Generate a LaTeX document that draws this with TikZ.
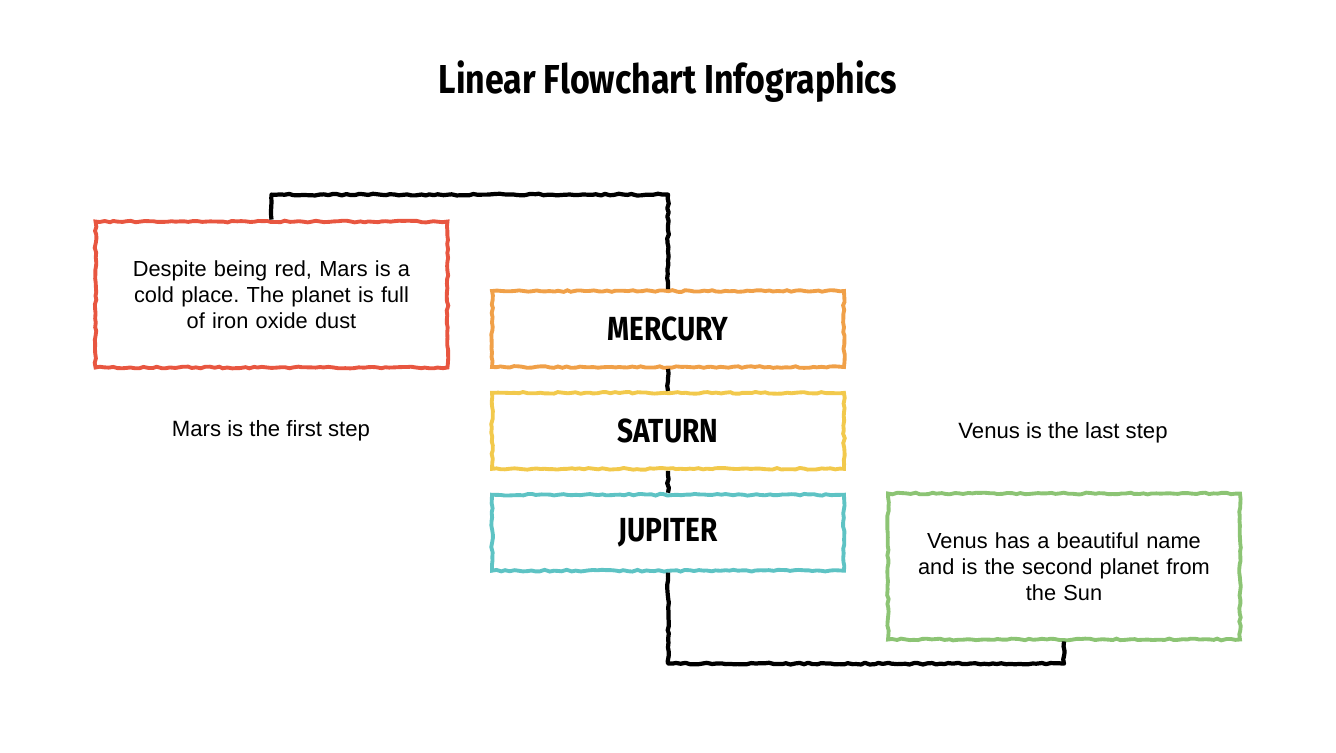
\documentclass[tikz,border=0pt]{standalone}
\usepackage{fontspec}
\setmainfont{Liberation Sans}
\newfontfamily\headfont[FakeStretch=0.84]{Fira Sans}
\usetikzlibrary{positioning,decorations.pathmorphing}
\frenchspacing

\definecolor{marsred}{RGB}{232,86,64}
\definecolor{mercorange}{RGB}{240,160,72}
\definecolor{satyellow}{RGB}{242,201,76}
\definecolor{jupteal}{RGB}{94,195,196}
\definecolor{venusgreen}{RGB}{140,196,116}

\begin{document}
\begin{tikzpicture}[x=0.02cm, y=-0.02cm,
		rough/.style = {decorate, decoration={random steps, segment length=2.5pt, amplitude=0.5pt}},
		card/.style = {rough, draw, fill=white, line width=2.2pt, minimum width=7.04cm, minimum height=2.92cm, text width=6.4cm, align=center, font=\fontsize{12.4}{14.7}\selectfont},
		planet/.style = {rough, draw, fill=white, line width=2.2pt, minimum width=7.04cm, minimum height=1.52cm, font=\headfont\bfseries\fontsize{19}{22}\selectfont},
		note/.style = {font=\fontsize{12.6}{15}\selectfont},
		link/.style = {rough, draw=black, line width=2.4pt, line join=round}]
		\path[use as bounding box] (0,0) rectangle (1336,752);
		\node (title) at (668,82) {\headfont\bfseries\fontsize{23}{27}\selectfont Linear Flowchart Infographics};
		% planet column
		\node[planet, draw=mercorange] (merc) at (668,329) {MERCURY};
		\node[planet, draw=satyellow] (sat) [below=0.44cm of merc] {SATURN};
		\node[planet, draw=jupteal] (jup) [below=0.44cm of sat] {JUPITER};
		% side cards
		\node[card, draw=marsred] (mars) at (271.5,294.5) {Despite being red, Mars is a\\ cold place. The planet is full\\ of iron oxide dust};
		\node[card, draw=venusgreen] (venus) at (1064,566.5) {Venus has a beautiful name\\ and is the second planet from\\ the Sun};
		\node[note] (first) at (271,431) {Mars is the first step};
		\node[note] (last) at (1063,433) {Venus is the last step};
		% connectors
		\draw[link] (mars.north) -- ++(0,-25) -| (merc.north);
		\draw[link] (merc) -- (sat);
		\draw[link] (sat) -- (jup);
		\draw[link] (jup.south) -- ++(0,91) -| (venus.south);
	\end{tikzpicture}
\end{document}
